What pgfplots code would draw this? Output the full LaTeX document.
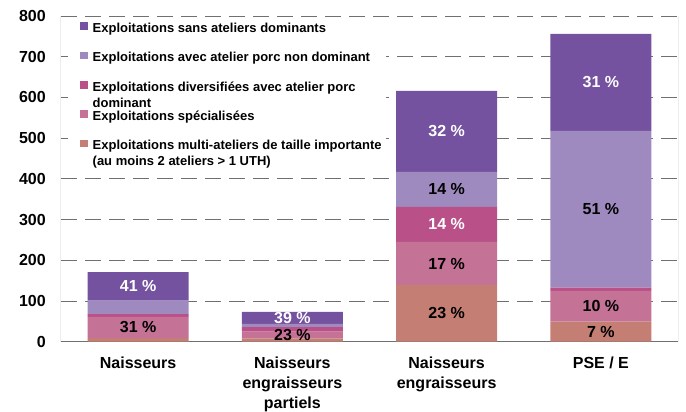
\documentclass[border=0pt]{standalone}
\usepackage{pgfplots}
\pgfplotsset{compat=1.18}
\usepackage{fontspec}
\setmainfont{Liberation Sans}
\definecolor{cA}{HTML}{C47E74}
\definecolor{cB}{HTML}{C47296}
\definecolor{cC}{HTML}{B95088}
\definecolor{cD}{HTML}{9E8ABE}
\definecolor{cE}{HTML}{7452A0}
\definecolor{gridc}{HTML}{707070}
\begin{document}
\begin{tikzpicture}[font=\bfseries]
\begin{axis}[name=ax,
  scale only axis, width=617pt, height=325.7pt,
  ybar stacked, bar width=101pt,
  xmin=-0.5, xmax=3.5, ymin=0, ymax=800,
  xtick={0,1,2,3},
  xticklabels={Naisseurs, Naisseurs\\engraisseurs\\partiels, Naisseurs\\engraisseurs, PSE / E},
  xticklabel style={align=center, font=\fontsize{16}{20}\selectfont\bfseries, yshift=-12pt},
  ytick={0,100,...,800},
  yticklabel style={font=\fontsize{16}{20}\selectfont\bfseries, xshift=-11.7pt},
  /pgf/number format/assume math mode=true,
  major tick length=0pt,
  ymajorgrids, grid style={gridc, dash pattern=on 16pt off 8pt, line width=0.9pt},
  axis line style={draw=none},
  reverse legend,
  legend image code/.code={\fill[#1] (8pt,-1pt) rectangle ++(7.5pt,7.5pt); \path (0pt,0pt);},
  legend style={at={(axis description cs:0.0113,0.994)}, anchor=north west,
     draw=none, fill=white, inner xsep=4pt, inner ysep=4.3pt,
     font=\fontsize{13}{16}\selectfont\bfseries,
     nodes={inner sep=0pt, text height=10pt, text depth=3pt},
     row sep=16.3pt, column sep=5pt, legend cell align=left},
]
\addplot[fill=cA, draw=none] coordinates {(0,9) (1,8) (2,139) (3,49)};
\addplot[fill=cB, draw=none] coordinates {(0,52) (1,17) (2,106) (3,76)};
\addplot[fill=cC, draw=none] coordinates {(0,7) (1,11) (2,86) (3,8)};
\addplot[fill=cD, draw=none] coordinates {(0,33) (1,8) (2,86) (3,385)};
\addplot[fill=cE, draw=none] coordinates {(0,70) (1,29) (2,199) (3,238)};
\legend{{\smash{\begin{tabular}[t]{@{}l@{}}Exploitations multi-ateliers de taille importante\\(au moins 2 ateliers > 1 UTH)\end{tabular}}},
  Exploitations spécialisées,
  {\smash{\begin{tabular}[t]{@{}l@{}}Exploitations diversifiées avec atelier porc\\dominant\end{tabular}}},
  Exploitations avec atelier porc non dominant,
  Exploitations sans ateliers dominants}
\draw[gridc, line width=1pt] (rel axis cs:0,1) -- (rel axis cs:0,0) -- (rel axis cs:1,0) -- (rel axis cs:1,1);
\end{axis}
\begin{axis}[at={(ax.south west)}, anchor=south west,
  scale only axis, width=617pt, height=325.7pt,
  xmin=-0.5, xmax=3.5, ymin=0, ymax=800, hide axis,
  point meta=explicit symbolic,
  nodes near coords,
  every node near coord/.append style={anchor=center, inner sep=0pt,
     font=\fontsize{16}{19}\selectfont\bfseries},
]
% labels at the middle of their segments
\addplot[only marks, mark=none, every node near coord/.append style={text=black}]
  coordinates {(0,35) [31 \%] (1,16.5) [23 \%] (2,69.5) [23 \%] (2,192) [17 \%]
               (2,374) [14 \%] (3,24.5) [7 \%] (3,87) [10 \%] (3,325.5) [51 \%]};
\addplot[only marks, mark=none, every node near coord/.append style={text=white}]
  coordinates {(0,136) [41 \%] (1,58.5) [39 \%] (2,288) [14 \%] (2,516.5) [32 \%] (3,637) [31 \%]};
\end{axis}
\pgfresetboundingbox
\path[use as bounding box] ([xshift=-61pt,yshift=-70.3pt]ax.south west) rectangle ([xshift=8pt,yshift=16pt]ax.north east);
\end{tikzpicture}
\end{document}
